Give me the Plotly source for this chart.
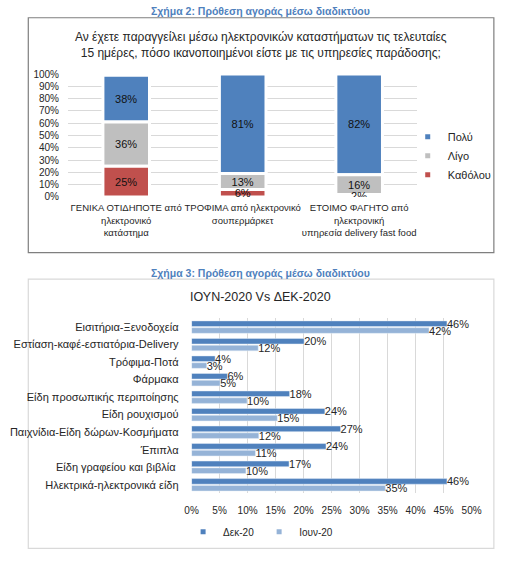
import plotly.graph_objects as go

# --- Σχήμα 2 data ---
sat_categories = [
    "ΓΕΝΙΚΑ ΟΤΙΔΗΠΟΤΕ από<br>ηλεκτρονικό<br>κατάστημα",
    "ΤΡΟΦΙΜΑ από ηλεκτρονικό<br>σουπερμάρκετ",
    "ΕΤΟΙΜΟ ΦΑΓΗΤΟ από<br>ηλεκτρονική<br>υπηρεσία delivery fast food",
]
sat_none = [25, 6, 2]      # Καθόλου
sat_little = [36, 13, 16]  # Λίγο
sat_much = [38, 81, 82]    # Πολύ

# --- Σχήμα 3 data ---
buy_categories = [
    "Εισιτήρια-Ξενοδοχεία",
    "Εστίαση-καφέ-εστιατόρια-Delivery",
    "Τρόφιμα-Ποτά",
    "Φάρμακα",
    "Είδη προσωπικής περιποίησης",
    "Είδη ρουχισμού",
    "Παιχνίδια-Είδη δώρων-Κοσμήματα",
    "Έπιπλα",
    "Είδη γραφείου και βιβλία ",
    "Ηλεκτρικά-ηλεκτρονικά είδη",
]
buy_dec20 = [45.6, 20.1, 4.2, 6.4, 17.5, 23.8, 26.6, 24.0, 17.4, 45.6]
buy_jun20 = [42.4, 11.9, 2.7, 5.1, 9.9, 15.3, 12.0, 11.4, 9.7, 34.6]

FONT = "Liberation Sans, Arial, sans-serif"
BLUE = "#4f81bd"
LIGHT_BLUE = "#95b3d7"
GREY = "#bfbfbf"
RED = "#c0504d"
TXT = "#262626"
W, H = 530, 568


def px(v):
    return v / W


def py(v):
    return 1 - v / H


def label(text, x, y, size, color=TXT):
    return dict(text=text, x=px(x), y=py(y), xref="paper", yref="paper",
                xanchor="center", yanchor="middle", showarrow=False,
                font=dict(size=size, color=color))


fig = go.Figure()

# stacked bars (explicit bases so both panels can share overlay mode);
# drawn top segment first so the small bottom labels stay on top
base_little = list(sat_none)
base_much = [a + b for a, b in zip(sat_none, sat_little)]
for name, vals, base, color in [
    ("Πολύ", sat_much, base_much, BLUE),
    ("Λίγο", sat_little, base_little, GREY),
    ("Καθόλου", sat_none, [0] * len(sat_none), RED),
]:
    fig.add_trace(go.Bar(
        x=sat_categories, y=vals, base=base, name=name,
        marker=dict(color=color, line=dict(color="white", width=3)),
        width=0.4,
        text=[f"{v}%" for v in vals],
        textposition="inside", insidetextanchor="middle",
        constraintext="none",
        textfont=dict(family=FONT, size=11, color="#111111"),
        showlegend=False, hoverinfo="skip",
        xaxis="x", yaxis="y",
    ))

# legend entries (small square markers like the original)
for name, color in [("Πολύ", BLUE), ("Λίγο", GREY), ("Καθόλου", RED)]:
    fig.add_trace(go.Scatter(
        x=[None], y=[None], mode="markers", name=name,
        marker=dict(symbol="square", size=5, color=color),
        legend="legend", xaxis="x", yaxis="y",
    ))

# grouped horizontal bars
for name, vals, color, off in [
    ("Δεκ-20", buy_dec20, BLUE, -0.35),
    ("Ιουν-20", buy_jun20, LIGHT_BLUE, 0.04),
]:
    fig.add_trace(go.Bar(
        y=buy_categories, x=vals, orientation="h", name=name,
        marker=dict(color=color),
        width=0.32, offset=off,
        text=[f"{v:.0f}%" for v in vals],
        textposition="outside", constraintext="none", cliponaxis=False,
        textfont=dict(family=FONT, size=11, color=TXT),
        showlegend=False, hoverinfo="skip",
        xaxis="x2", yaxis="y2",
    ))
    fig.add_trace(go.Scatter(
        x=[None], y=[None], mode="markers", name=name,
        marker=dict(symbol="square", size=5, color=color),
        legend="legend2", xaxis="x2", yaxis="y2",
    ))

fig.update_layout(
    width=W, height=H,
    margin=dict(l=0, r=0, t=0, b=0),
    paper_bgcolor="white", plot_bgcolor="white",
    barmode="overlay", hovermode=False,
    font=dict(family=FONT, size=11, color=TXT),
    xaxis=dict(
        domain=[px(63), px(424)], showgrid=False, zeroline=False,
        tickfont=dict(size=9.5, color=TXT), ticks="", tickangle=0,
        ticklabelstandoff=4, fixedrange=True,
    ),
    yaxis=dict(
        domain=[py(195), py(69.5)], range=[0, 100], dtick=10,
        ticksuffix="%", gridcolor="#d9d9d9", zeroline=False,
        tickfont=dict(size=10, color=TXT), ticks="", ticklabelstandoff=8,
    ),
    xaxis2=dict(
        domain=[px(190.7), px(480)], range=[0, 50], dtick=5,
        ticksuffix="%", gridcolor="#d9d9d9", zeroline=False,
        tickfont=dict(size=10, color=TXT), ticks="", tickangle=0,
        ticklabelstandoff=10, anchor="y2",
    ),
    yaxis2=dict(
        domain=[py(498), py(319)], autorange="reversed",
        categoryorder="array", categoryarray=buy_categories,
        showgrid=False, zeroline=False,
        tickfont=dict(size=11, color=TXT), ticks="", ticklabelstandoff=12,
        anchor="x2",
    ),
    legend=dict(
        x=px(414), y=py(153), xanchor="left", yanchor="middle",
        font=dict(size=11, color=TXT), bgcolor="rgba(0,0,0,0)",
        itemwidth=30, tracegroupgap=0,
    ),
    legend2=dict(
        orientation="h", x=px(262), y=py(537), xanchor="center", yanchor="middle",
        font=dict(size=10, color=TXT), bgcolor="rgba(0,0,0,0)",
        itemwidth=30,
    ),
    shapes=[
        dict(type="rect", xref="paper", yref="paper",
             x0=px(22), x1=px(503), y0=py(252), y1=py(12),
             line=dict(color="#7f7f7f", width=1.2), layer="below"),
        dict(type="rect", xref="paper", yref="paper",
             x0=px(22), x1=px(503), y0=py(554), y1=py(279),
             line=dict(color="#d9d9d9", width=1.2), layer="below"),
    ],
    annotations=[
        label("<b>Σχήμα 2: Πρόθεση αγοράς μέσω διαδικτύου</b>", 262, 5.5, 10.5, BLUE),
        label("Αν έχετε παραγγείλει μέσω ηλεκτρονικών καταστήματων τις τελευταίες<br>"
              "15 ημέρες, πόσο ικανοποιημένοι είστε με τις υπηρεσίες παράδοσης;",
              262, 39.5, 12),
        label("<b>Σχήμα 3: Πρόθεση αγοράς μέσω διαδικτύου</b>", 262, 273, 10.5, BLUE),
        label("ΙΟΥΝ-2020 Vs ΔΕΚ-2020", 262, 297, 12.5),
    ],
)

# drop the default 8px page margin so the figure fills the window exactly
fig.write_html("out.html", config={"displayModeBar": False},
               post_script="document.body.style.margin = '0';")
